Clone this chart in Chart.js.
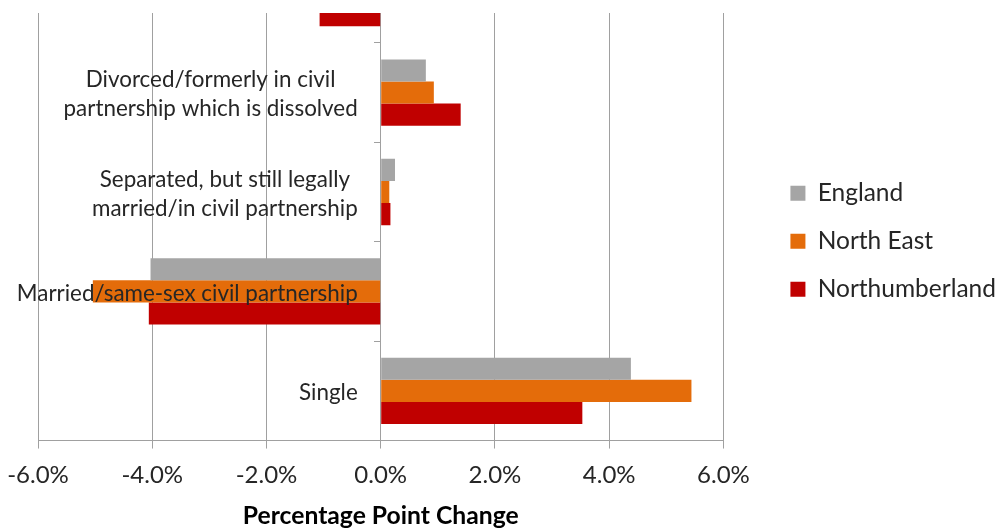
<!DOCTYPE html>
<html>
<head>
<meta charset="utf-8">
<title>Marital status change</title>
<script src="https://cdn.jsdelivr.net/npm/chart.js@4.4.1/dist/chart.umd.min.js"></script>
<style>
  html, body { margin: 0; padding: 0; background: #fff; }
  #wrap { width: 997px; height: 531px; position: relative; }
</style>
</head>
<body>
<div id="wrap"><canvas id="maritalChart"></canvas></div>
<script>
'use strict'
// categories top to bottom, each one split into its label lines
const categories = [
  ['Widowed/surviving partner', 'from civil partnership'],
  ['Divorced/formerly in civil', 'partnership which is dissolved'],
  ['Separated, but still legally', 'married/in civil partnership'],
  ['Married/same-sex civil partnership'],
  ['Single']
];
const seriesNames = ['England', 'North East', 'Northumberland'];
const england = [-0.92, 0.79, 0.25, -4.03, 4.38];
const northEast = [-1.00, 0.93, 0.15, -5.04, 5.44];
const northumberland = [-1.07, 1.40, 0.17, -4.06, 3.53];
const xTickValues = [-6, -4, -2, 0, 2, 4, 6];

const colours = ['#a5a5a5', '#e46c0a', '#c00000'];
const gridColour = '#a0a0a0';
const textColour = '#262626';

Chart.defaults.font.family = 'Lato';

// labels sit left of the 0% line, over the bars, like the original
const categoryLabels = {
  id: 'categoryLabels',
  afterDatasetsDraw(chart) {
    const ctx = chart.ctx;
    const area = chart.chartArea;
    const xs = chart.scales.x;
    const ys = chart.scales.y;
    const right = xs.getPixelForValue(0) - 23;
    ctx.save();
    ctx.beginPath();
    ctx.rect(0, area.top, area.right, area.bottom - area.top);
    ctx.clip();
    ctx.font = '22.4px Lato';
    ctx.fillStyle = textColour;
    ctx.textAlign = 'center';
    ctx.textBaseline = 'middle';
    categories.forEach(function (lines, i) {
      const y = ys.getPixelForValue(i) + 2;
      if (y < area.top || y > area.bottom) return;
      const w = Math.max.apply(null, lines.map(l => ctx.measureText(l).width));
      lines.forEach(function (line, j) {
        ctx.fillText(line, right - w / 2, y + (j - (lines.length - 1) / 2) * 29);
      });
    });
    ctx.restore();
  }
};

const values = [england, northEast, northumberland];
const data = {
  datasets: seriesNames.map(function (name, k) {
    return {
      label: name,
      data: values[k].map((v, i) => ({ x: v, y: i })),
      backgroundColor: colours[k],
      borderWidth: 0,
      categoryPercentage: 0.667,
      barPercentage: 1.0
    };
  })
};

const config = {
  type: 'bar',
  data: data,
  plugins: [categoryLabels],
  options: {
    indexAxis: 'y',
    animation: false,
    responsive: true,
    maintainAspectRatio: false,
    layout: { padding: { top: 13, left: 38, right: -9, bottom: 0 } },
    scales: {
      x: {
        type: 'linear',
        min: xTickValues[0],
        max: xTickValues[xTickValues.length - 1],
        afterBuildTicks: s => { s.ticks = xTickValues.map(v => ({ value: v })); },
        afterFit: s => { s.paddingLeft = 0; },
        ticks: {
          callback: v => v.toFixed(1) + '%',
          font: { size: 24 },
          color: textColour,
          padding: 12,
          maxRotation: 0
        },
        grid: { color: gridColour, tickLength: 8 },
        border: { color: gridColour },
        title: {
          display: true,
          text: 'Percentage Point Change',
          font: { size: 24.7, weight: 'bold' },
          color: '#000',
          padding: { top: 0, bottom: 0 }
        }
      },
      y: {
        type: 'linear',
        reverse: true,
        offset: false,
        min: 0.2,
        max: categories.length - 0.5,
        position: { x: 0 },
        afterBuildTicks: s => { s.ticks = categories.map((c, i) => ({ value: i + 0.5 })); },
        ticks: { display: false },
        grid: { offset: false, drawOnChartArea: false, tickLength: 6, color: gridColour },
        border: { color: gridColour }
      },
      gap: {
        position: 'right',
        display: true,
        ticks: { display: false },
        grid: { display: false },
        border: { display: false },
        afterFit: s => { s.width = 43.5; }
      }
    },
    plugins: {
      tooltip: { enabled: false },
      legend: {
        position: 'right',
        fullSize: false,
        maxWidth: 400,
        title: { display: true, text: '', font: { size: 24 }, padding: 0 },
        labels: {
          boxWidth: 15,
          boxHeight: 15,
          padding: 23.5,
          color: textColour,
          font: { size: 24.5 }
        }
      }
    }
  }
};

const maritalChart = new Chart(document.getElementById('maritalChart'), config);
</script>
</body>
</html>
